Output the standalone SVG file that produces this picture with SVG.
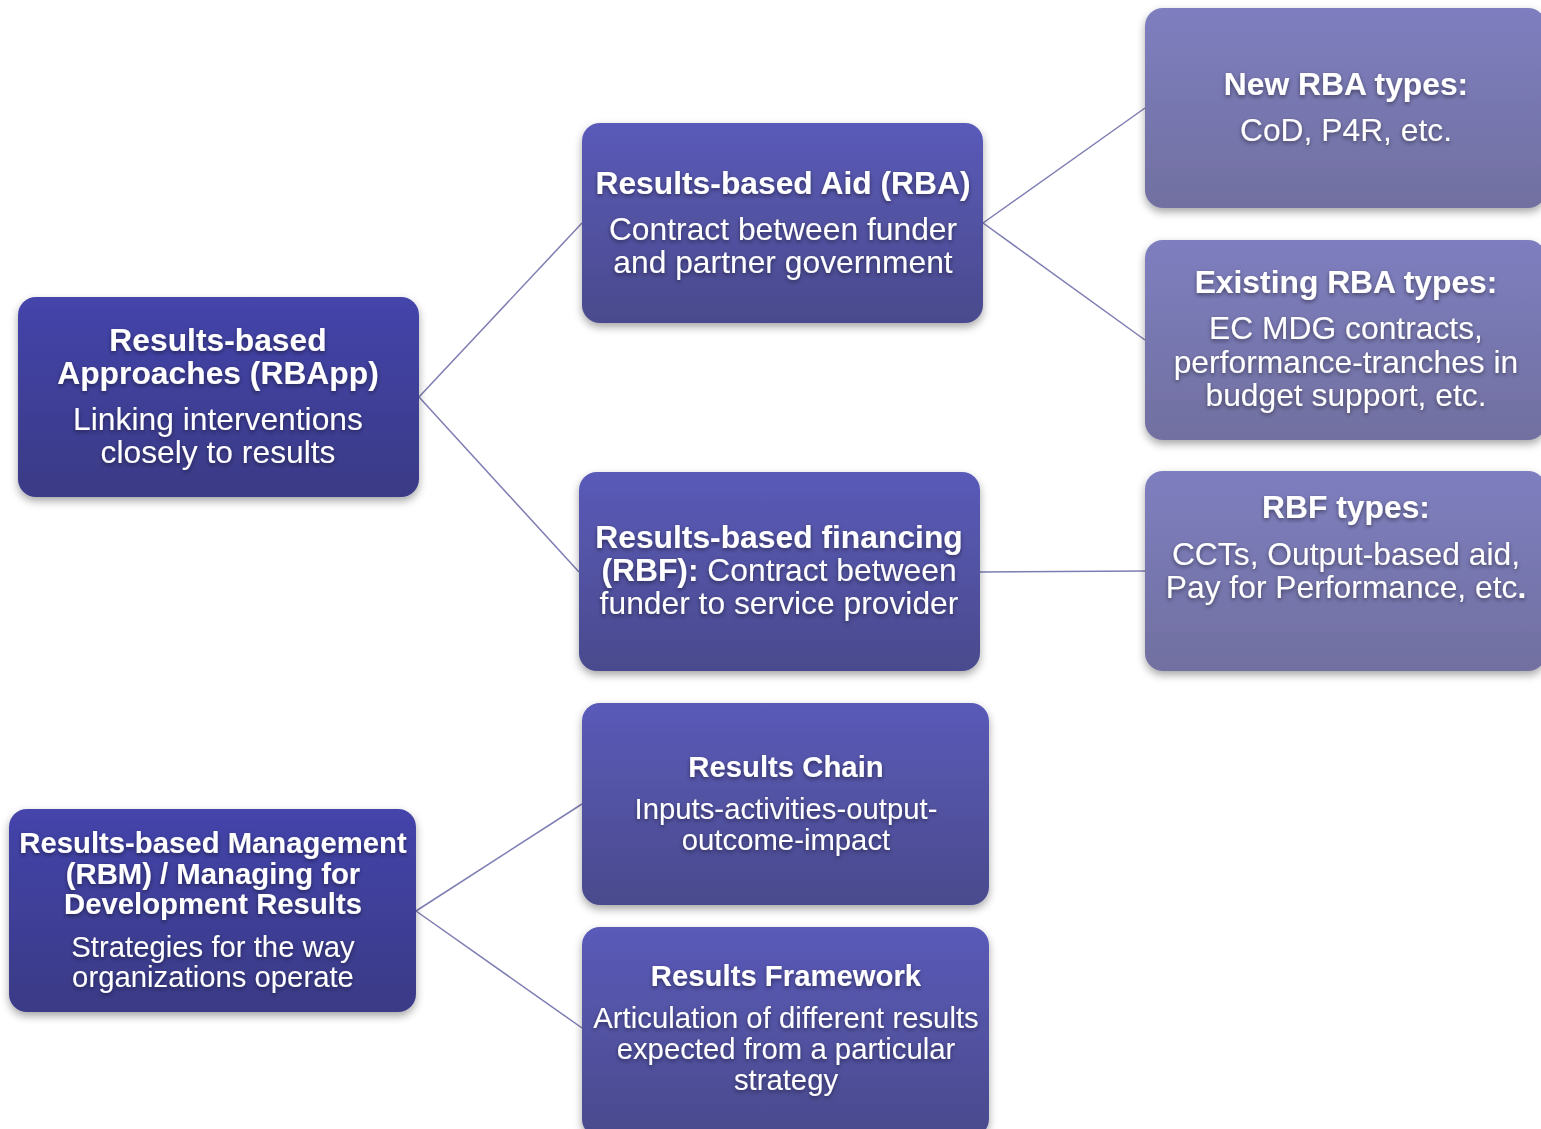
<svg xmlns="http://www.w3.org/2000/svg" width="1541" height="1129" viewBox="0 0 1541 1129">
<defs>
<linearGradient id="gDark" x1="0" y1="0" x2="0" y2="1">
<stop offset="0" stop-color="#4444ab"/><stop offset="1" stop-color="#3a3a86"/>
</linearGradient>
<linearGradient id="gMid" x1="0" y1="0" x2="0" y2="1">
<stop offset="0" stop-color="#5a5ab9"/><stop offset="1" stop-color="#4a4a8d"/>
</linearGradient>
<linearGradient id="gLight" x1="0" y1="0" x2="0" y2="1">
<stop offset="0" stop-color="#7e7ec0"/><stop offset="1" stop-color="#7170a0"/>
</linearGradient>
<filter id="boxShadow" x="-10%" y="-10%" width="120%" height="130%">
<feDropShadow dx="0" dy="4" stdDeviation="4" flood-color="#000" flood-opacity="0.35"/>
</filter>
<filter id="txtShadow" x="-5%" y="-20%" width="110%" height="150%">
<feDropShadow dx="0" dy="2" stdDeviation="2" flood-color="#000" flood-opacity="0.45"/>
</filter>
</defs>
<style>
.box{filter:url(#boxShadow);}
.dark{fill:url(#gDark);}
.mid{fill:url(#gMid);}
.light{fill:url(#gLight);}
text{font-family:"Liberation Sans",Arial,sans-serif;fill:#ffffff;text-anchor:middle;filter:url(#txtShadow);}
.b{font-weight:bold;}
.big{font-size:31.8px;}
.sm{font-size:29.3px;}
.conn{stroke:#7d7db3;stroke-width:1.5;fill:none;}
</style>
<rect width="1541" height="1129" fill="#ffffff"/>
<g id="connectors">
<line class="conn" x1="419" y1="397" x2="582" y2="223"/>
<line class="conn" x1="419" y1="397" x2="579" y2="572"/>
<line class="conn" x1="983" y1="223" x2="1145" y2="108"/>
<line class="conn" x1="983" y1="223" x2="1145" y2="340"/>
<line class="conn" x1="980" y1="572" x2="1145" y2="571"/>
<line class="conn" x1="416" y1="911" x2="582" y2="804"/>
<line class="conn" x1="416" y1="911" x2="582" y2="1028"/>
</g>
<g id="node-rbapp">
<rect class="box dark" x="18" y="297" width="401" height="200" rx="18"/>
<text class="big"><tspan class="b" x="218" y="351">Results-based</tspan><tspan class="b" x="218" y="384">Approaches (RBApp)</tspan><tspan x="218" y="430">Linking interventions</tspan><tspan x="218" y="463">closely to results</tspan></text>
</g>
<g id="node-rba">
<rect class="box mid" x="582" y="123" width="401" height="200" rx="18"/>
<text class="big"><tspan class="b" x="783" y="194">Results-based Aid (RBA)</tspan><tspan x="783" y="240">Contract between funder</tspan><tspan x="783" y="273">and partner government</tspan></text>
</g>
<g id="node-new-rba">
<rect class="box light" x="1145" y="8" width="401" height="200" rx="18"/>
<text class="big"><tspan class="b" x="1346" y="95">New RBA types:</tspan><tspan x="1346" y="141">CoD, P4R, etc.</tspan></text>
</g>
<g id="node-existing-rba">
<rect class="box light" x="1145" y="240" width="401" height="200" rx="18"/>
<text class="big"><tspan class="b" x="1346" y="293">Existing RBA types:</tspan><tspan x="1346" y="339">EC MDG contracts,</tspan><tspan x="1346" y="373">performance-tranches in</tspan><tspan x="1346" y="406">budget support, etc.</tspan></text>
</g>
<g id="node-rbf">
<rect class="box mid" x="579" y="472" width="401" height="199" rx="18"/>
<text class="big"><tspan class="b" x="779" y="548">Results-based financing</tspan><tspan x="779" y="581"><tspan class="b">(RBF):</tspan> Contract between</tspan><tspan x="779" y="614">funder to service provider</tspan></text>
</g>
<g id="node-rbf-types">
<rect class="box light" x="1145" y="471" width="401" height="200" rx="18"/>
<text class="big"><tspan class="b" x="1346" y="518">RBF types:</tspan><tspan x="1346" y="565">CCTs, Output-based aid,</tspan><tspan x="1346" y="598">Pay for Performance, etc<tspan class="b">.</tspan></tspan></text>
</g>
<g id="node-rbm">
<rect class="box dark" x="9" y="809" width="407" height="203" rx="18"/>
<text class="sm"><tspan class="b" x="213" y="853">Results-based Management</tspan><tspan class="b" x="213" y="884">(RBM) / Managing for</tspan><tspan class="b" x="213" y="914">Development Results</tspan><tspan x="213" y="957">Strategies for the way</tspan><tspan x="213" y="987">organizations operate</tspan></text>
</g>
<g id="node-results-chain">
<rect class="box mid" x="582" y="703" width="407" height="202" rx="18"/>
<text class="sm"><tspan class="b" x="786" y="777">Results Chain</tspan><tspan x="786" y="819">Inputs-activities-output-</tspan><tspan x="786" y="850">outcome-impact</tspan></text>
</g>
<g id="node-results-framework">
<rect class="box mid" x="582" y="927" width="407" height="210" rx="18"/>
<text class="sm"><tspan class="b" x="786" y="986">Results Framework</tspan><tspan x="786" y="1028">Articulation of different results</tspan><tspan x="786" y="1059">expected from a particular</tspan><tspan x="786" y="1090">strategy</tspan></text>
</g>
</svg>
